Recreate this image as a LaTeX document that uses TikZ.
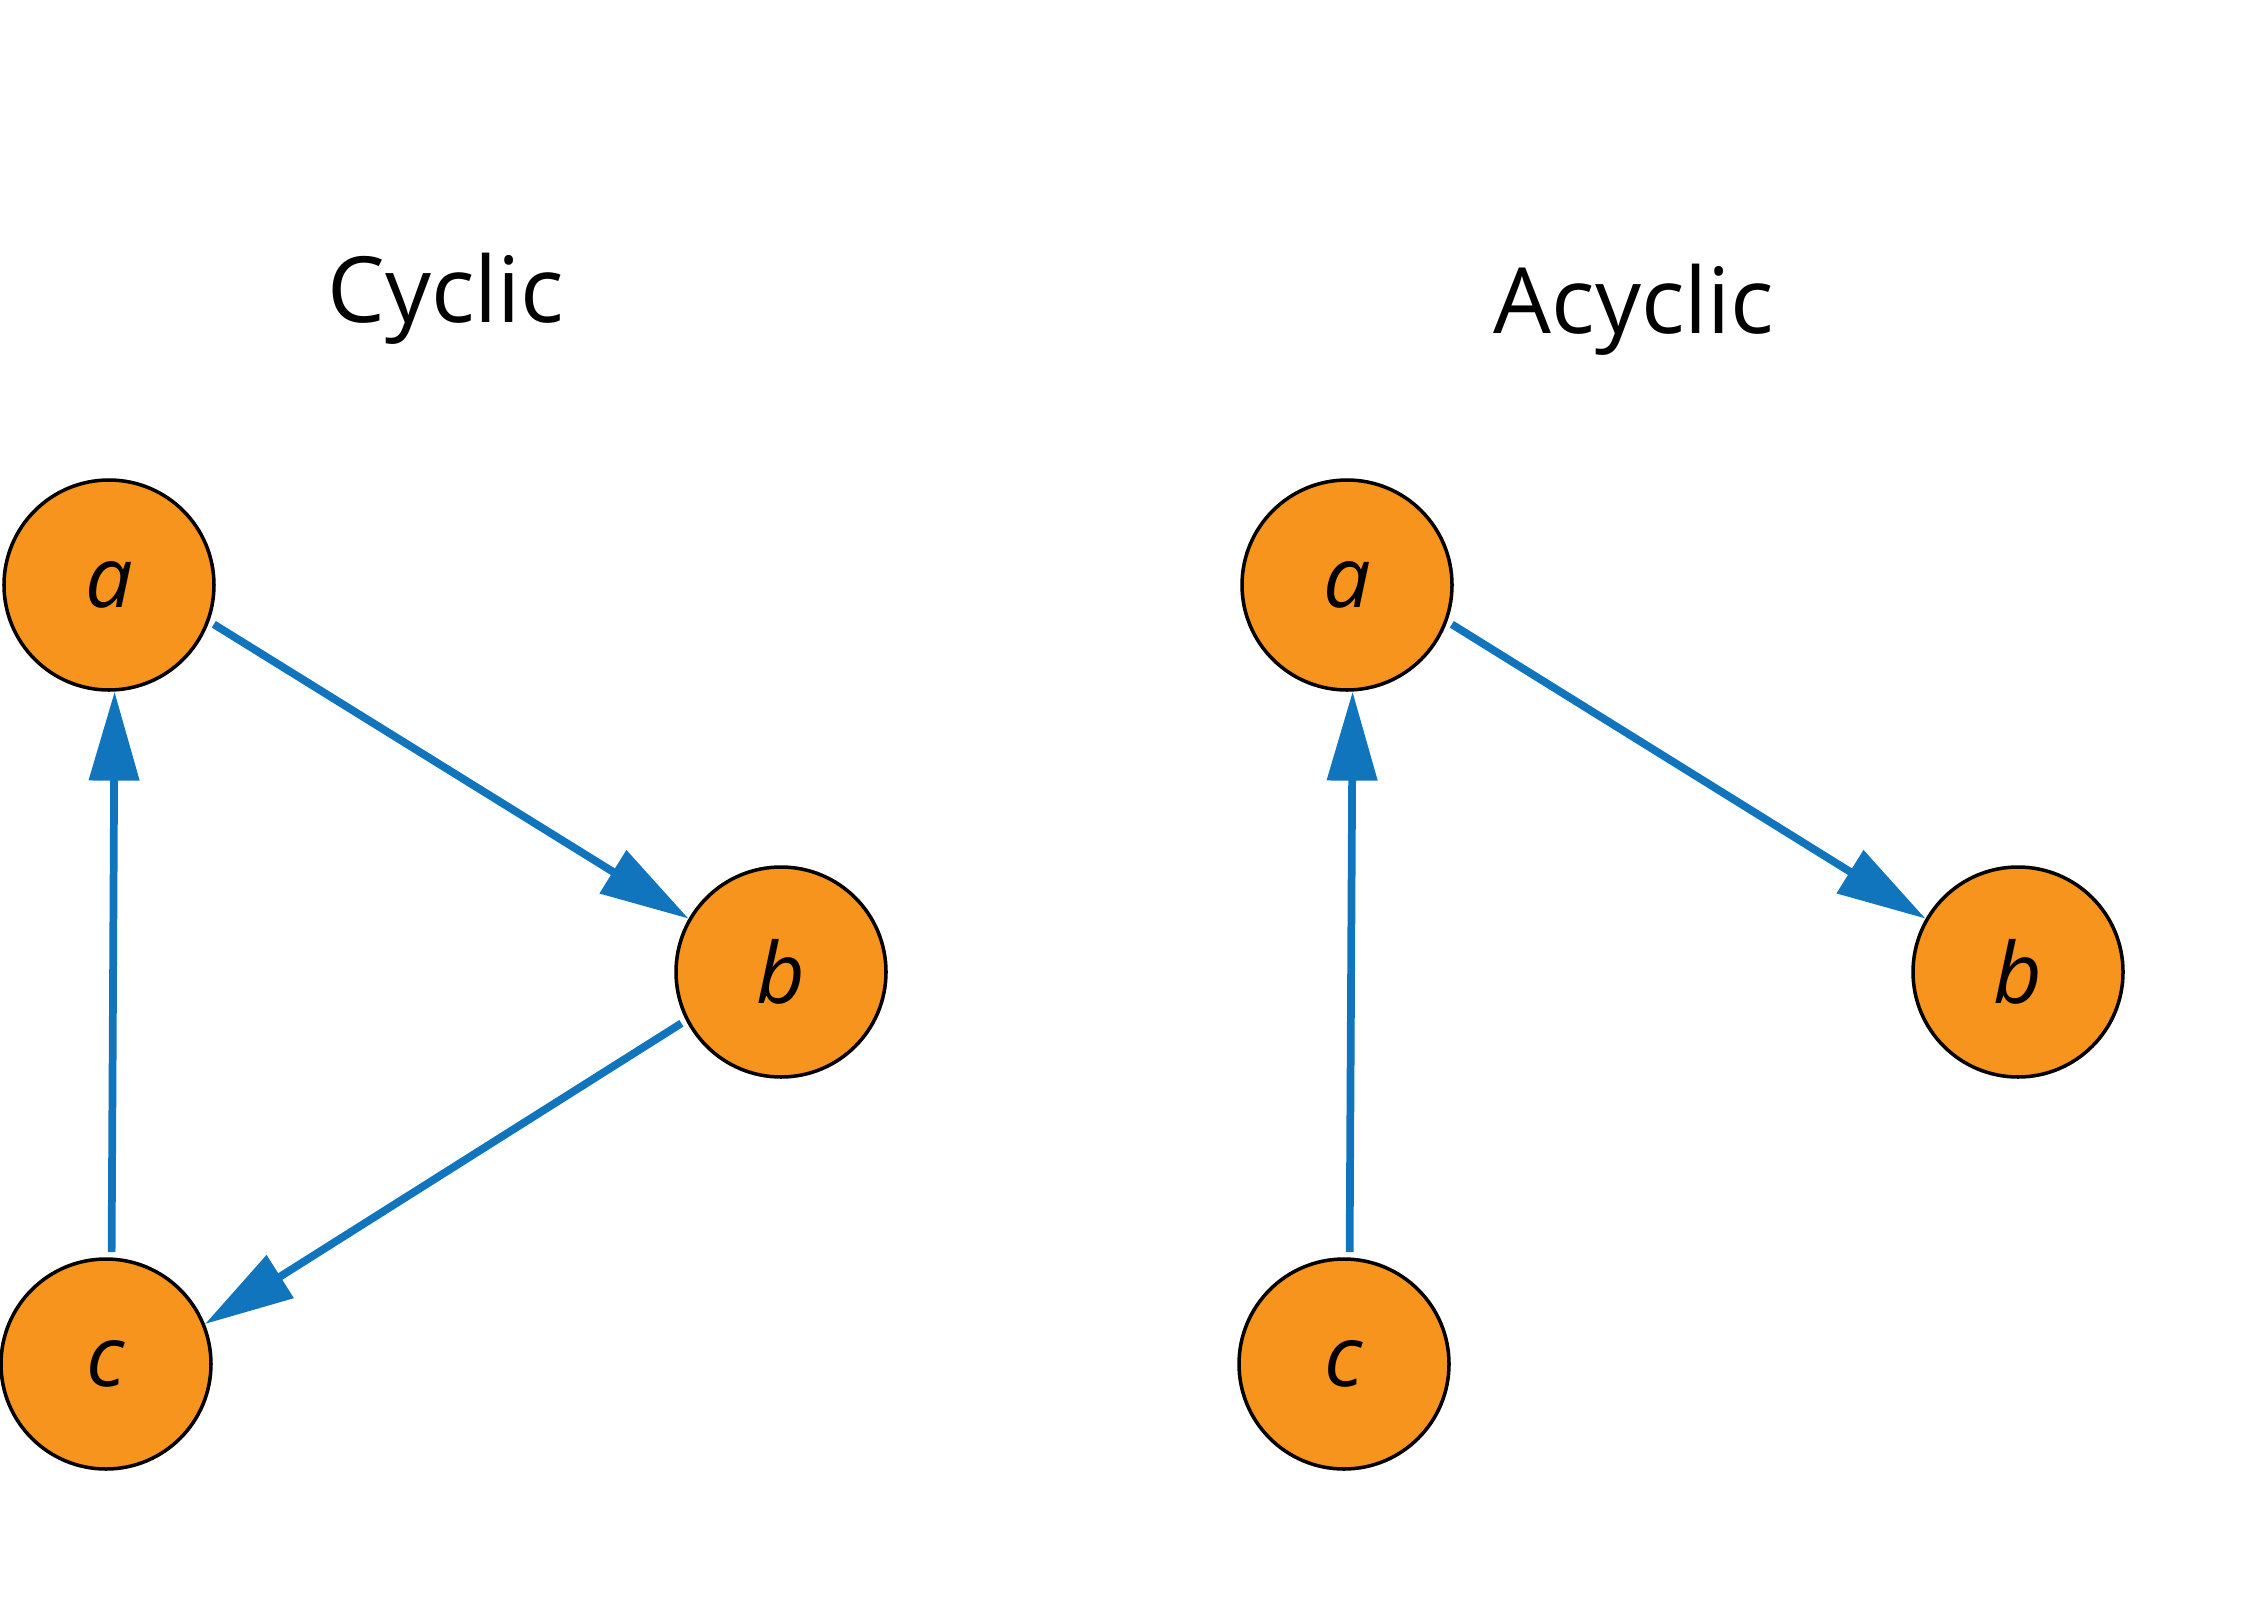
\documentclass[tikz,border=0pt]{standalone}
\usepackage{fontspec}
\setmainfont{Open Sans}
\usepackage{xcolor}
\definecolor{Node-orange}{RGB}{247, 148, 30}
\definecolor{Edge-blue}{RGB}{16, 117, 188}
\usetikzlibrary{arrows.meta,positioning}

\begin{document}
\begin{tikzpicture} [ % styles for the two graphs
    >={Triangle[length=0.89cm, width=0.49cm]},
    vertex/.style = {circle, minimum size = 2.1cm, inner sep = 0pt, fill = Node-orange, draw = black, line width = 1pt, font = \fontsize{24}{24}\selectfont\itshape},
    title/.style = {shape = rectangle, align = center, anchor = base, font = \fontsize{26}{26}\selectfont},
    edge/.style = {draw = Edge-blue, line width = 2.2pt, ->}
]

\useasboundingbox (0,0) rectangle (22.47,-16.17);

% titles
\node [title] (tcyc) at (4.46,-3.22){Cyclic};
\node [title] (tacyc) at (16.34,-3.34){Acyclic};

% left graph
\node [vertex] (la) at (1.09,-5.85){a};
\node [vertex] (lb) at (7.81,-9.72){b};
\node [vertex] (lc) at (1.06,-13.64){c};

% right graph
\node [vertex] (ra) at (13.47,-5.85){a};
\node [vertex] (rb) at (20.18,-9.72){b};
\node [vertex] (rc) at (13.44,-13.64){c};

% edges
\draw [edge,shorten <=1.5pt](la.-20)--(lb.150);
\draw [edge,shorten <=1.5pt](lb.207)--(lc.22);
\draw [edge,shorten <=1.5pt](lc.87)--(la.273);

\draw [edge,shorten <=1.5pt](ra.-20)--(rb.150);
\draw [edge,shorten <=1.5pt](rc.87)--(ra.273);

\end{tikzpicture}
\end{document}
